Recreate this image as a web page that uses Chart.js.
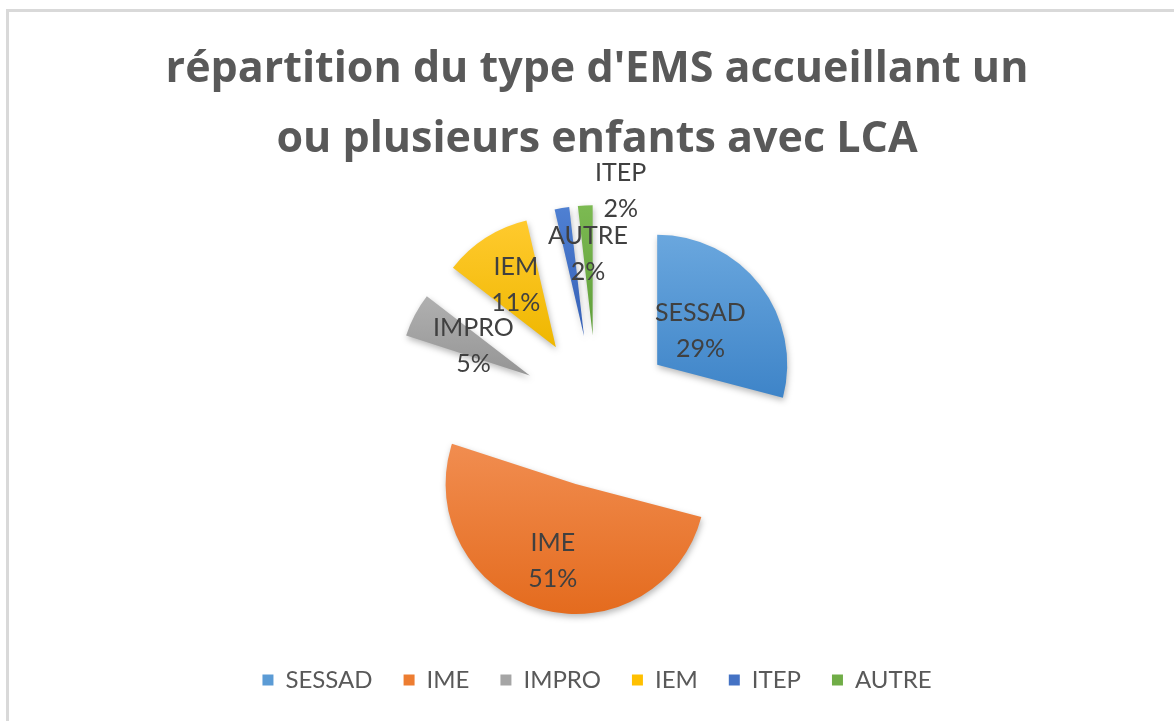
<!DOCTYPE html>
<html>
<head>
<meta charset="utf-8">
<script src="https://cdn.jsdelivr.net/npm/chart.js@4.4.1/dist/chart.umd.min.js"></script>
<style>
    html, body { margin: 0; padding: 0; background: #fff; overflow: hidden; }
    #frame { position: absolute; left: 6px; top: 9px; width: 1220px; height: 760px; border: 3px solid #d9d9d9; }
    #wrap { position: absolute; left: 0; top: 0; width: 1174px; height: 721px; }
</style>
</head>
<body>
<div id="frame"></div>
<div id="wrap"><canvas id="pieChart"></canvas></div>
<script>
const titleLines = ["répartition du type d'EMS accueillant un", "ou plusieurs enfants avec LCA"];
const categories = ["SESSAD", "IME", "IMPRO", "IEM", "ITEP", "AUTRE"];
const counts = [16, 28, 3, 6, 1, 1];
const colors = ["#5b9bd5", "#ed7d31", "#a5a5a5", "#ffc000", "#4472c4", "#70ad47"];
const colorsTop = ["#6aa7de", "#f18d50", "#b0b0b0", "#ffca2e", "#4f80d2", "#7cba52"];
const colorsBottom = ["#3e84c8", "#e46b1e", "#959595", "#efb700", "#345fb6", "#5f9e39"];

// explode distance, label placement (fraction of radius, extra turn in degrees)
const EXPLODE = 76;
const RADIUS = 130;
const labelRadius = [0.42, 0.62, 0.49, 0.57, 1.15, 0.63];
const labelTurn = [0, 0, 0, 0, 24, 0];

const total = counts.reduce((a, b) => a + b, 0);

const explode = {
    id: "explode",
    afterDatasetUpdate(chart, args) {
        const area = chart.chartArea;
        const cx = (area.left + area.right) / 2;
        const cy = (area.top + area.bottom) / 2;
        const ctx = chart.ctx;
        args.meta.data.forEach((arc, i) => {
            const mid = (arc.startAngle + arc.endAngle) / 2;
            arc.x = cx + Math.cos(mid) * EXPLODE;
            arc.y = cy + Math.sin(mid) * EXPLODE;
            let minY = arc.y, maxY = arc.y;
            for (let k = 0; k <= 40; k++) {
                const a = arc.startAngle + (arc.endAngle - arc.startAngle) * k / 40;
                const y = arc.y + Math.sin(a) * arc.outerRadius;
                minY = Math.min(minY, y);
                maxY = Math.max(maxY, y);
            }
            const grad = ctx.createLinearGradient(0, minY, 0, maxY);
            grad.addColorStop(0, colorsTop[i]);
            grad.addColorStop(1, colorsBottom[i]);
            arc.options = Object.assign({}, arc.options, { backgroundColor: grad });
        });
    },
    beforeDatasetsDraw(chart) {
        const ctx = chart.ctx;
        ctx.save();
        ctx.shadowColor = "rgba(0,0,0,0.28)";
        ctx.shadowBlur = 6;
        ctx.shadowOffsetX = 1;
        ctx.shadowOffsetY = 3;
    },
    afterDatasetsDraw(chart) {
        const ctx = chart.ctx;
        ctx.restore();
        const meta = chart.getDatasetMeta(0);
        ctx.save();
        ctx.font = "25px Lato";
        ctx.fillStyle = "#404040";
        ctx.textAlign = "center";
        ctx.textBaseline = "middle";
        meta.data.forEach((arc, i) => {
            const mid = (arc.startAngle + arc.endAngle) / 2 + labelTurn[i] * Math.PI / 180;
            const r = arc.outerRadius * labelRadius[i];
            const x = arc.x + Math.cos(mid) * r;
            const y = arc.y + Math.sin(mid) * r;
            const pct = Math.round(counts[i] / total * 100) + "%";
            ctx.fillText(categories[i], x, y - 18);
            ctx.fillText(pct, x, y + 18);
        });
        ctx.restore();
    }
};

const pie = document.getElementById("pieChart").getContext("2d");
new Chart(pie, {
    type: "pie",
    data: {
        labels: categories,
        datasets: [
            {
                label: "EMS",
                data: counts,
                backgroundColor: colors,
                borderWidth: 0,
                radius: RADIUS,
                clip: false,
            },
        ],
    },
    options: {
        responsive: true,
        maintainAspectRatio: false,
        animation: false,
        layout: { padding: { left: 20, right: 0, top: 8, bottom: 19 } },
        plugins: {
            title: {
                display: true,
                text: titleLines,
                color: "#595959",
                font: { family: "'Open Sans'", size: 43, weight: "bold", lineHeight: 1.63 },
                padding: { top: 27, bottom: 10 },
            },
            legend: {
                position: "bottom",
                labels: {
                    color: "#595959",
                    font: { family: "Lato", size: 24 },
                    boxWidth: 11,
                    boxHeight: 11,
                    padding: 31,
                },
            },
            tooltip: { enabled: false },
        },
    },
    plugins: [explode],
});
</script>
</body>
</html>
